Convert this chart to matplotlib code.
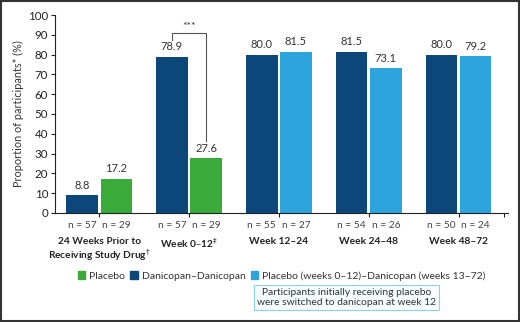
import matplotlib
matplotlib.use("Agg")
import matplotlib.pyplot as plt
from matplotlib.patches import Rectangle
import numpy as np

plt.rcParams['font.family'] = ['Lato', 'DejaVu Sans']

groups = ["24 Weeks Prior to\nReceiving Study Drug$^{\\dagger}$", "Week 0\u201312$^{\\ddagger}$",
          "Week 12\u201324", "Week 24\u201348", "Week 48\u201372"]
dani = [8.8, 78.9, 80.0, 81.5, 80.0]
second = [17.2, 27.6, 81.5, 73.1, 79.2]
n_dani = [57, 57, 55, 54, 50]
n_second = [29, 29, 27, 26, 24]

dark = "#0d4679"
green = "#3aab3a"
light = "#2ea4dd"
second_colors = [green, green, light, light, light]

fig = plt.figure(figsize=(5.2, 3.22), dpi=100)
ax = fig.add_axes([0.106, 0.339, 0.871, 0.614])

x = np.arange(len(groups))
w = 0.35
off = 0.19
ax.bar(x - off, dani, w, color=dark)
ax.bar(x + off, second, w, color=second_colors)

for i in range(len(groups)):
    ax.text(x[i] - off, dani[i] + 2.3, f"{dani[i]:.1f}", ha="center", va="bottom", fontsize=8, color="#333333")
    ax.text(x[i] + off, second[i] + 2.3, f"{second[i]:.1f}", ha="center", va="bottom", fontsize=8, color="#333333")
    ax.text(x[i] - off, -4, f"n = {n_dani[i]}", ha="center", va="top", fontsize=7.3, color="#444444")
    ax.text(x[i] + off, -4, f"n = {n_second[i]}", ha="center", va="top", fontsize=7.3, color="#444444")
    ax.text(x[i], -12, groups[i], ha="center", va="top", fontsize=7.3, fontweight="bold", color="#222222",
            linespacing=1.15)

# significance bracket
ax.plot([1 - off, 1 - off, 1 + off, 1 + off], [87.5, 91, 91, 36.5], color="#555555", lw=0.8)
ax.text(1, 92, "***", ha="center", va="bottom", fontsize=7.5, color="#333333")

ax.set_xlim(-0.49, 4.55)
ax.set_ylim(0, 100)
ax.set_yticks(np.arange(0, 101, 10))
ax.set_xticks(list(x) + [4.5])
ax.set_xticklabels([])
ax.tick_params(axis="y", labelsize=8.3, length=3, width=0.8, colors="#222222", pad=2)
ax.tick_params(axis="x", length=3, width=0.8, colors="#222222")
ax.spines["top"].set_visible(False)
ax.spines["right"].set_visible(False)
ax.spines["left"].set_color("#222222")
ax.spines["bottom"].set_color("#222222")
ax.set_ylabel("Proportion of participants* (%)", fontsize=7.8, color="#333333", labelpad=3)

# legend
handles = [Rectangle((0, 0), 1, 1, color=green), Rectangle((0, 0), 1, 1, color=dark),
           Rectangle((0, 0), 1, 1, color=light)]
labels = ["Placebo", "Danicopan\u2013Danicopan", "Placebo (weeks 0\u201312)\u2013Danicopan (weeks 13\u201372)"]
fig.legend(handles, labels, loc="center", bbox_to_anchor=(0.542, 0.143), ncol=3, frameon=False,
           fontsize=7.5, handlelength=0.7, handleheight=0.7, handletextpad=0.4, columnspacing=0.5,
           labelcolor="#333333")

fig.text(0.667, 0.075, "Participants initially receiving placebo\nwere switched to danicopan at week 12",
         ha="center", va="center", fontsize=7.4, color="#333333", linespacing=1.15,
         bbox=dict(boxstyle="square,pad=0.3", fc="#f7fcfe", ec="#8fd0ee", lw=0.8))

fig.patches.append(Rectangle((0.002, 0.003), 0.996, 0.994, transform=fig.transFigure, fill=False,
                             ec="#333333", lw=1.5))

fig.savefig("out.png", dpi=100)
